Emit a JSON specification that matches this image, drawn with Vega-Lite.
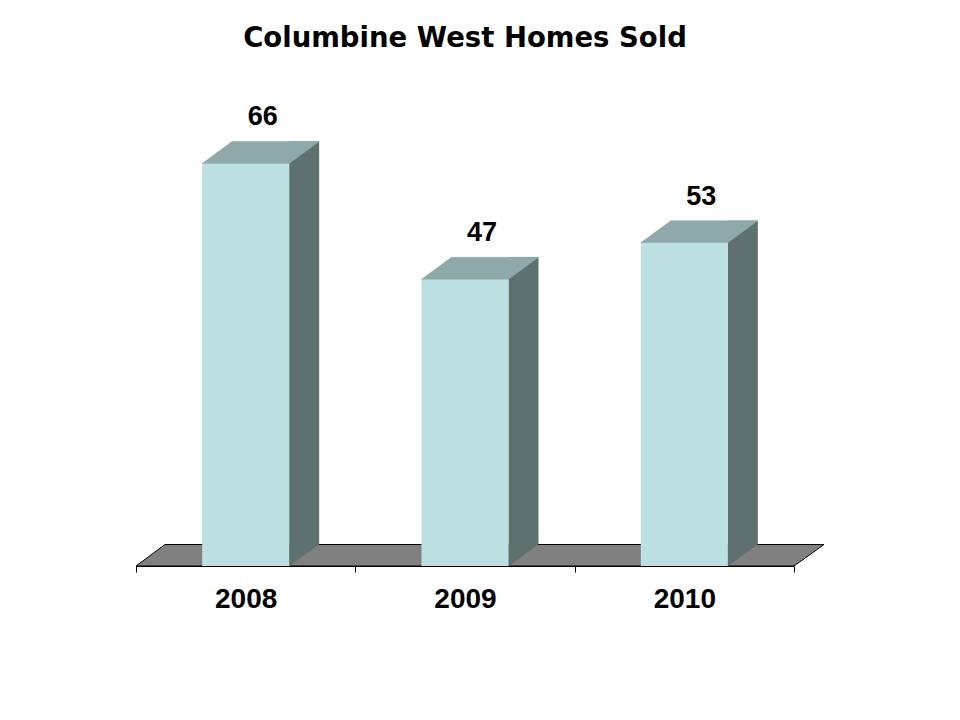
{
  "$schema": "https://vega.github.io/schema/vega-lite/v6.json",
  "autosize": {"type": "none"},
  "padding": {"left": 136, "right": 166, "top": 78, "bottom": 154},
  "width": 658,
  "height": 488,
  "background": "white",
  "config": {"view": {"stroke": null}},
  "title": {
    "text": "Columbine West Homes Sold",
    "font": "DejaVu Sans",
    "fontSize": 27.5,
    "fontWeight": "bold",
    "color": "black",
    "anchor": "middle",
    "baseline": "alphabetic",
    "offset": 4
  },
  "data": {
    "values": [
      {"year": "2008", "sold": 66},
      {"year": "2009", "sold": 47},
      {"year": "2010", "sold": 53}
    ]
  },
  "encoding": {
    "x": {
      "field": "year",
      "type": "nominal",
      "scale": {"paddingInner": 0, "paddingOuter": 0},
      "axis": {
        "title": null,
        "labelAngle": 0,
        "labelFont": "Liberation Sans",
        "labelFontSize": 28,
        "labelFontWeight": "bold",
        "labelColor": "black",
        "labelPadding": 13,
        "domainColor": "black",
        "domainWidth": 1,
        "tickColor": "black",
        "tickSize": 6,
        "tickWidth": 1,
        "tickBand": "extent",
        "grid": false,
        "zindex": 1
      }
    },
    "y": {"field": "sold", "type": "quantitative", "scale": {"domain": [0, 80]}, "axis": null}
  },
  "layer": [
    {
      "transform": [{"filter": "datum.year == '2009'"}],
      "mark": {"type": "point", "shape": "M-329,0L-300,-21.5L359,-21.5L329,0Z", "size": 4, "filled": true, "fill": "#808080", "stroke": "black", "strokeWidth": 1, "opacity": 1},
      "encoding": {"y": {"datum": 0, "type": "quantitative"}}
    },
    {
      "mark": {"type": "bar", "size": 30, "xOffset": 58.5, "yOffset": -22, "y2Offset": -22, "color": "#5F7070"},
      "encoding": {"y2": {"datum": 0}}
    },
    {
      "mark": {"type": "point", "shape": "M43.5,0L43.5,-22L73.5,-22Z", "size": 4, "filled": true, "fill": "#5F7070", "stroke": "#5F7070", "strokeWidth": 0.5, "opacity": 1},
      "encoding": {"y": {"datum": 0, "type": "quantitative"}}
    },
    {
      "mark": {"type": "bar", "size": 87, "color": "#BDE0E3"},
      "encoding": {"y2": {"datum": 0}}
    },
    {
      "mark": {"type": "point", "shape": "M-43.5,0L-13.5,-22L73.5,-22L43.5,0Z", "size": 4, "filled": true, "fill": "#8FA8AA", "stroke": "#8FA8AA", "strokeWidth": 0.5, "opacity": 1}
    },
    {
      "mark": {"type": "text", "font": "Liberation Sans", "fontSize": 27, "fontWeight": "bold", "color": "black", "dx": 17, "dy": -38, "baseline": "alphabetic", "align": "center"},
      "encoding": {"text": {"field": "sold", "type": "quantitative"}}
    }
  ]
}
